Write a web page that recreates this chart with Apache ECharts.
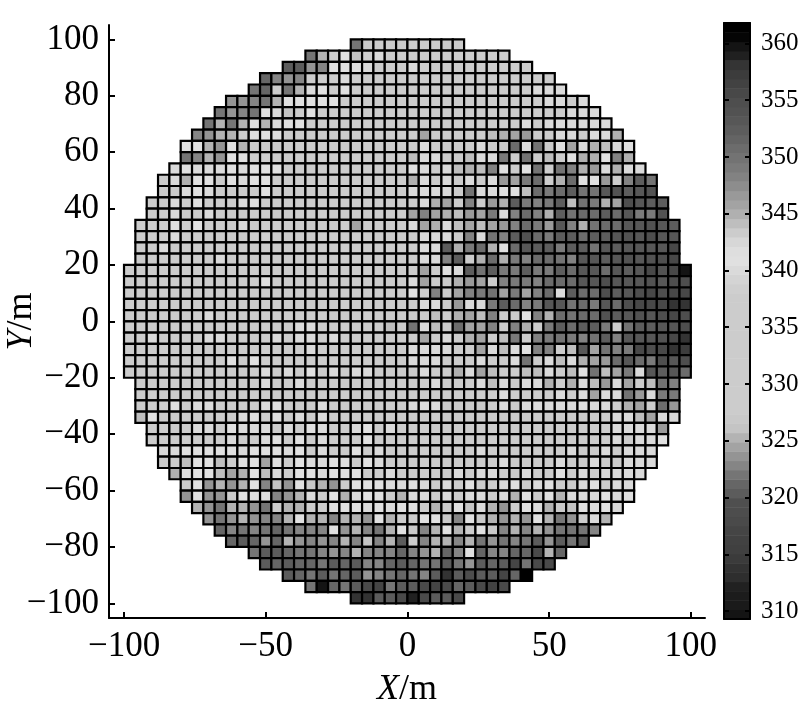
<!DOCTYPE html>
<html>
<head>
<meta charset="utf-8">
<title>Cell map</title>
<style>
  html, body { margin: 0; padding: 0; background: #fff; }
  #chart { width: 800px; height: 710px; }
</style>
<script src="https://cdn.jsdelivr.net/npm/echarts@6/dist/echarts.min.js"></script>
</head>
<body>
<div id="chart"></div>
<script>
// cell values per row, top row (y = 100) first. each row is centred on x = 0
const rowsTop = [
  [322,338,338,333,333,338,338,333,333,338],
  [322,325,333,341,326,333,340,333,333,338,338,338,333,338,338,338,338,338],
  [320,320,324,323,341,341,341,340,338,333,333,340,338,333,333,333,333,333,338,338,338,338],
  [321,323,324,323,343,338,343,340,343,338,338,333,333,338,338,333,333,338,338,338,333,338,338,338,338,338],
  [322,321,333,322,325,340,341,338,341,333,338,338,338,333,338,333,338,338,333,333,338,338,333,338,338,340,340,340],
  [324,324,323,322,325,341,341,341,341,341,333,343,343,343,333,333,333,338,338,333,333,338,338,333,333,338,338,338,340,340,333,340],
  [322,324,323,322,341,340,326,333,341,333,333,333,333,333,333,333,333,333,338,333,333,338,333,338,338,333,338,338,338,338,338,340,340,340],
  [322,325,322,325,341,325,340,341,341,333,333,333,333,333,333,333,333,333,333,338,333,333,333,338,338,338,333,338,340,338,340,340,340,340,340,340],
  [323,324,325,325,338,341,341,341,338,333,333,333,333,333,333,333,333,333,333,333,346,338,333,333,338,333,344,345,346,347,338,338,340,340,338,340,340,345],
  [341,341,325,324,341,325,333,333,338,333,333,333,333,333,333,333,333,333,333,333,333,340,338,338,338,333,340,333,343,351,340,350,343,341,346,340,345,344,340,341]
];
const rowsUpper = [
  [322,323,325,324,341,341,333,333,338,333,333,333,333,333,333,333,333,333,333,333,344,340,340,333,343,344,340,340,349,333,350,333,344,333,341,345,345,341,348,345],
  [340,341,340,340,340,341,340,341,341,341,338,333,333,333,333,333,333,333,333,333,333,341,340,338,340,344,345,344,348,341,333,341,350,333,350,348,345,347,340,345,340,340],
  [343,340,345,341,341,333,341,340,341,341,333,333,338,333,333,333,333,333,333,333,333,333,345,340,338,340,338,340,333,340,347,346,349,351,333,345,351,341,341,347,338,348,352,350],
  [338,333,340,341,340,338,338,338,333,341,333,333,333,333,333,333,333,333,333,333,333,333,340,340,340,340,338,350,340,340,341,341,344,351,349,351,352,350,350,353,354,352,353,354],
  [333,333,340,333,341,338,333,333,340,341,343,343,343,333,333,333,333,333,333,333,333,333,333,338,340,345,346,338,348,333,347,345,352,349,348,349,352,344,350,349,345,346,355,353,352,352],
  [333,333,340,343,333,340,343,333,333,333,333,333,333,333,333,333,333,333,333,333,333,333,333,346,348,346,345,344,347,346,349,340,348,351,348,345,352,350,351,351,352,351,353,349,349,354],
  [343,343,333,341,343,341,333,333,338,340,333,333,333,333,333,338,333,333,333,346,333,333,333,333,340,346,345,340,344,346,344,346,347,348,351,349,347,353,348,345,350,351,351,353,353,354,353,352],
  [333,333,333,340,333,333,338,333,333,333,333,333,333,338,333,333,333,333,333,333,333,333,338,333,338,340,340,340,343,348,340,350,348,352,354,351,349,352,352,351,352,352,353,354,353,355,353,353],
  [333,333,340,333,333,333,333,333,338,333,333,333,338,333,333,333,333,333,333,333,333,333,333,333,338,340,340,352,345,349,351,345,341,351,353,352,352,349,352,352,350,353,352,353,353,353,353,356],
  [333,333,333,333,333,338,333,340,333,333,333,333,333,333,333,333,333,333,338,333,333,333,333,333,333,340,340,348,352,338,345,351,345,349,348,351,351,350,348,353,353,352,353,354,353,354,355,356]
];
const rowsMiddle = [
  [333,333,333,333,333,333,333,333,338,333,333,333,333,333,338,333,333,333,333,333,333,333,333,333,333,338,346,338,341,340,352,350,352,349,349,352,349,349,352,351,353,353,351,353,352,353,356,354,356,360],
  [333,333,333,333,333,333,333,333,333,333,333,333,341,333,333,333,333,333,333,333,333,333,338,333,333,340,346,338,343,345,347,346,333,348,349,349,348,351,351,351,353,353,355,353,353,353,354,353,355,355],
  [333,333,333,333,333,333,333,333,333,333,333,333,333,333,333,338,333,333,333,333,333,333,333,333,333,341,338,348,333,346,348,349,350,346,349,346,348,351,340,352,351,351,355,352,353,355,356,355,356,356],
  [333,333,333,333,333,333,333,338,333,333,333,333,333,333,333,333,333,333,333,333,333,333,333,333,333,338,340,340,338,347,340,340,349,352,351,348,349,353,353,350,351,349,353,351,355,356,356,356,358,358],
  [333,333,333,333,333,333,333,340,333,333,333,333,333,333,333,333,333,333,333,333,333,333,338,333,333,338,343,344,338,345,346,344,348,338,333,341,348,345,351,350,351,351,354,352,353,354,353,355,356,355],
  [333,333,333,333,338,333,333,333,338,338,333,333,333,338,333,340,340,333,333,338,333,333,333,344,333,350,340,344,343,351,346,346,348,338,348,345,333,349,352,351,352,352,349,338,350,352,352,353,353,355],
  [333,333,340,333,333,338,333,340,340,338,338,333,338,340,338,340,340,338,340,333,338,338,338,343,338,338,346,333,340,338,345,346,333,344,349,338,348,349,350,349,348,350,352,348,353,353,353,354,356,358],
  [343,333,333,333,338,343,338,333,333,333,338,333,338,338,333,338,340,333,338,333,333,333,333,333,338,340,340,340,340,333,338,346,340,344,340,341,348,348,338,344,353,346,350,348,349,356,355,356,358,357],
  [343,333,333,333,333,338,343,333,333,341,333,341,333,338,333,338,338,333,338,333,333,333,333,333,338,340,340,340,338,333,338,340,338,333,340,350,333,340,344,340,345,346,347,351,353,351,349,355,353,355],
  [333,333,333,333,338,333,333,338,333,338,333,338,340,333,340,338,341,338,340,333,340,340,333,333,333,338,340,333,333,345,340,346,344,333,338,344,344,340,333,344,341,350,344,346,349,340,353,352,353,351]
];
const rowsLower = [
  [333,338,333,338,338,333,333,338,333,338,338,340,338,333,340,338,338,338,338,338,338,333,338,333,338,338,340,338,333,338,340,344,340,333,340,340,345,338,345,340,344,347,340,346,338,344,350,348],
  [333,333,333,333,333,333,333,338,338,338,333,338,338,338,338,338,338,338,338,338,338,333,338,333,338,338,338,338,338,338,338,338,340,338,338,338,338,340,338,340,346,340,340,350,347,340,349,349],
  [333,338,333,341,333,340,340,333,338,338,338,340,341,333,333,333,340,338,338,338,333,333,338,333,340,340,340,338,338,338,338,338,340,338,340,340,340,340,340,341,340,340,338,345,346,333,351,347],
  [344,341,338,338,333,333,338,333,333,340,341,338,341,338,340,333,340,338,338,333,333,338,343,333,338,338,338,338,338,338,338,338,338,338,338,338,338,338,338,338,338,338,340,340,344,346,340,340],
  [338,333,333,338,340,340,333,341,340,340,340,333,340,338,341,340,338,338,340,341,333,340,333,338,338,333,338,338,333,338,338,338,333,338,338,338,338,338,338,338,338,340,340,340,340,347],
  [338,338,343,333,343,338,338,340,338,333,340,341,333,341,338,340,338,333,338,341,333,333,333,338,338,333,338,338,338,338,338,338,333,338,338,338,338,338,338,338,338,340,338,340,340,341],
  [340,340,341,341,341,341,341,340,341,341,341,340,341,338,340,338,333,341,338,340,338,333,338,338,338,338,338,338,340,338,338,338,338,338,338,338,340,338,338,340,338,340,340,340],
  [338,333,344,341,341,344,338,341,341,346,341,338,341,340,340,341,341,338,341,340,338,333,338,338,338,338,338,338,338,338,340,338,338,338,338,340,338,338,340,338,338,340,340,340],
  [345,341,341,341,344,346,345,341,344,340,333,341,341,340,341,341,341,333,338,340,338,338,338,338,338,340,338,340,340,338,338,340,338,338,341,338,340,338,340,340,340,340],
  [333,341,324,325,324,325,341,323,326,324,341,327,325,324,338,341,341,341,340,340,341,340,338,340,338,341,338,338,340,341,338,340,341,338,338,340,341,338,340,340]
];
const rowsBottom = [
  [324,341,324,324,338,341,341,341,323,324,325,340,333,341,325,340,341,341,338,325,340,340,338,340,338,340,340,338,340,325,341,338,341,325,340,340,340,341,340,341],
  [325,324,322,325,325,324,322,338,325,325,333,333,341,341,341,340,341,340,341,341,338,325,338,341,326,340,325,324,333,341,340,325,327,326,341,340,341,340],
  [324,322,324,325,324,323,323,325,341,325,325,323,325,325,324,341,325,333,338,341,341,327,323,341,327,325,324,325,324,341,325,322,324,333,340,325],
  [321,323,322,323,322,321,322,323,323,323,341,324,325,323,322,325,341,327,323,325,341,325,338,341,327,323,325,323,325,324,322,322,322,323],
  [321,320,321,324,321,325,324,323,324,323,325,323,326,323,325,320,333,323,325,325,323,325,322,324,322,323,322,320,324,320,322,320],
  [322,320,320,321,322,322,323,324,323,325,323,323,323,321,323,324,325,321,323,341,321,323,323,321,321,318,325,321],
  [320,321,320,321,321,322,320,321,320,323,323,321,320,321,322,322,320,322,324,320,321,320,317,322,318,318],
  [320,321,322,320,322,321,320,324,323,322,321,322,323,320,314,320,319,320,320,317,321,361],
  [322,310,321,322,320,318,317,322,320,320,318,317,318,321,320,318,316,318],
  [314,314,320,320,318,312,318,320,320,318]
];
const cellRows = [...rowsTop, ...rowsUpper, ...rowsMiddle, ...rowsLower, ...rowsBottom];

// grey level of each of the 64 colour bands, lowest value first
const grayLevels = [
  20, 26, 28, 33, 46, 51, 59, 64, 66, 69, 74, 77, 79, 92, 102, 117,
  133, 148, 163, 179, 196, 201, 204, 204, 204, 204, 204, 204, 204, 204, 204, 204,
  204, 204, 204, 207, 212, 218, 224, 222, 215, 204, 190, 176, 163, 153, 141, 130,
  122, 115, 108, 100, 93, 87, 82, 78, 72, 66, 60, 52, 32, 20, 5, 0
];
const colorMin = 309.3;
const colorMax = 361.8;

const xTicks = [-100, -50, 0, 50, 100];
const yTicks = [-100, -80, -60, -40, -20, 0, 20, 40, 60, 80, 100];
const barTicks = [310, 315, 320, 325, 330, 335, 340, 345, 350, 355, 360];

const cellSize = 4;
const serif = '"Liberation Serif", "Times New Roman", serif';

function grayOf(value) {
  const n = grayLevels.length;
  const i = Math.floor((value - colorMin) / (colorMax - colorMin) * n);
  const g = grayLevels[Math.max(0, Math.min(n - 1, i))];
  return 'rgb(' + g + ',' + g + ',' + g + ')';
}

function signed(v) {
  return v < 0 ? '\u2212' + (-v) : String(v);
}

const cellData = [];
cellRows.forEach((row, r) => {
  row.forEach((v, k) => {
    cellData.push([-row.length * cellSize / 2 + k * cellSize, 100 - r * cellSize, v]);
  });
});

const bandStep = (colorMax - colorMin) / grayLevels.length;
const bandData = grayLevels.map((g, i) => [colorMin + i * bandStep, colorMin + (i + 1) * bandStep]);

const chart = echarts.init(document.getElementById('chart'));

const axisLine = { show: true, onZero: false, lineStyle: { color: '#000', width: 2 } };
const tickStyle = { color: '#000', width: 2 };
const nameRich = {
  i: { fontFamily: serif, fontStyle: 'italic', fontSize: 36, color: '#000' },
  r: { fontFamily: serif, fontSize: 36, color: '#000' }
};

chart.setOption({
  animation: false,
  backgroundColor: '#fff',
  grid: [
    { left: 109, top: 25, width: 596, height: 593, outerBoundsMode: 'none' },
    { left: 724, top: 23, width: 26, height: 596, outerBoundsMode: 'none' }
  ],
  xAxis: [
    {
      gridIndex: 0,
      type: 'value',
      min: -105.3,
      max: 105,
      splitLine: { show: false },
      axisLine: axisLine,
      axisTick: { inside: true, length: 6, lineStyle: tickStyle, customValues: xTicks },
      axisLabel: {
        customValues: xTicks,
        formatter: signed,
        fontFamily: serif,
        fontSize: 35,
        color: '#000',
        margin: 11
      },
      name: '{i|X}{r|/m}',
      nameLocation: 'middle',
      nameGap: 54,
      nameMoveOverlap: false,
      nameTextStyle: { rich: nameRich }
    },
    {
      gridIndex: 1,
      type: 'value',
      min: 0,
      max: 1,
      position: 'bottom',
      z: 5,
      axisLine: axisLine,
      axisTick: { show: false },
      axisLabel: { show: false },
      splitLine: { show: false }
    },
    {
      gridIndex: 1,
      type: 'value',
      min: 0,
      max: 1,
      position: 'top',
      z: 5,
      axisLine: axisLine,
      axisTick: { show: false },
      axisLabel: { show: false },
      splitLine: { show: false }
    }
  ],
  yAxis: [
    {
      gridIndex: 0,
      type: 'value',
      min: -105.2,
      max: 105.1,
      splitLine: { show: false },
      axisLine: axisLine,
      axisTick: { inside: true, length: 6, lineStyle: tickStyle, customValues: yTicks },
      axisLabel: {
        customValues: yTicks,
        formatter: signed,
        fontFamily: serif,
        fontSize: 35,
        color: '#000',
        margin: 10
      },
      name: '{i|Y}{r|/m}',
      nameLocation: 'middle',
      nameGap: 87,
      nameMoveOverlap: false,
      nameTextStyle: { rich: nameRich, verticalAlign: 'middle' }
    },
    {
      gridIndex: 1,
      type: 'value',
      min: colorMin,
      max: colorMax,
      position: 'left',
      z: 5,
      splitLine: { show: false },
      axisLine: axisLine,
      axisTick: { inside: true, length: 5, lineStyle: tickStyle, customValues: barTicks },
      axisLabel: { show: false }
    },
    {
      gridIndex: 1,
      type: 'value',
      min: colorMin,
      max: colorMax,
      position: 'right',
      z: 5,
      splitLine: { show: false },
      axisLine: axisLine,
      axisTick: { inside: true, length: 5, lineStyle: tickStyle, customValues: barTicks },
      axisLabel: {
        customValues: barTicks,
        fontFamily: serif,
        fontSize: 25,
        color: '#000',
        margin: 11
      }
    }
  ],
  series: [
    {
      type: 'custom',
      xAxisIndex: 0,
      yAxisIndex: 0,
      data: cellData,
      renderItem: function (params, api) {
        const a = api.coord([api.value(0), api.value(1)]);
        const b = api.coord([api.value(0) + cellSize, api.value(1) - cellSize]);
        return {
          type: 'rect',
          shape: { x: a[0], y: a[1], width: b[0] - a[0], height: b[1] - a[1] },
          style: { fill: grayOf(api.value(2)), stroke: '#000', lineWidth: 2.2 }
        };
      }
    },
    {
      type: 'custom',
      xAxisIndex: 1,
      yAxisIndex: 1,
      z: 1,
      data: bandData,
      renderItem: function (params, api) {
        const a = api.coord([0, api.value(1)]);
        const b = api.coord([1, api.value(0)]);
        return {
          type: 'rect',
          shape: { x: a[0], y: a[1], width: b[0] - a[0], height: b[1] - a[1] + 0.5 },
          style: { fill: grayOf((api.value(0) + api.value(1)) / 2) }
        };
      }
    }
  ]
});
</script>
</body>
</html>
